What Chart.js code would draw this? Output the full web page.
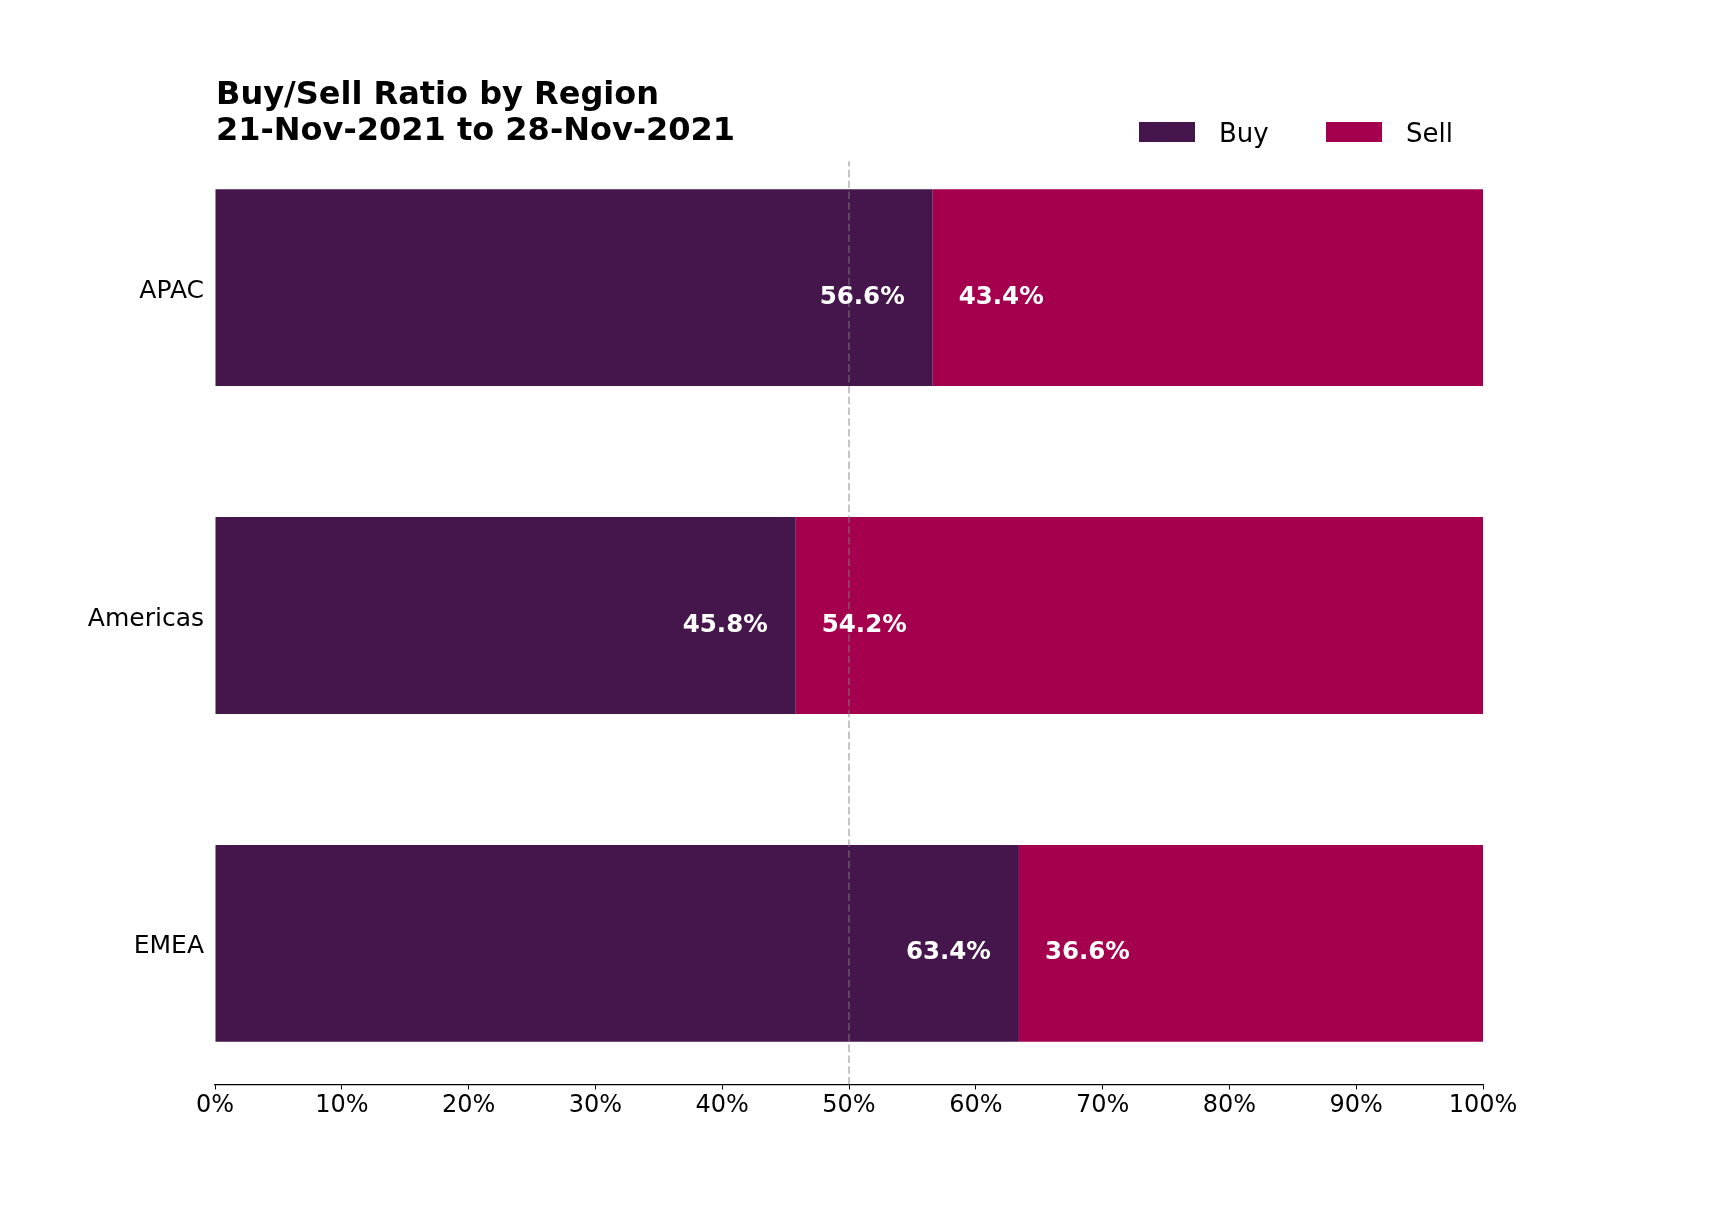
<!DOCTYPE html>
<html>
<head>
<meta charset="utf-8">
<script src="https://cdn.jsdelivr.net/npm/chart.js@4.4.1/dist/chart.umd.min.js"></script>
<style>
  html, body { margin: 0; padding: 0; background: #ffffff; }
  #wrap { width: 1717px; height: 1218px; position: relative; }
</style>
</head>
<body>
<div id="wrap"><canvas id="c" width="1717" height="1218"></canvas></div>
<script>
const regions = ['APAC', 'Americas', 'EMEA'];
const buyValues = [56.6, 45.8, 63.4];
const sellValues = [43.4, 54.2, 36.6];
const xTickValues = [0, 10, 20, 30, 40, 50, 60, 70, 80, 90, 100];
const referenceLine = 50;
const titleLines = ['Buy/Sell Ratio by Region', '21-Nov-2021 to 28-Nov-2021'];
const seriesNames = ['Buy', 'Sell'];
const seriesColors = ['#45164b', '#a5004d'];

const FONT = "'DejaVu Sans', sans-serif";

const toPoints = vals => vals.map((v, i) => ({ x: v, y: i }));

const refLinePlugin = {
  id: 'refLine',
  afterDatasetsDraw(chart) {
    const { ctx, scales } = chart;
    const x = scales.x.getPixelForValue(referenceLine);
    const yTop = scales.y.getPixelForValue(-0.385);
    const yBot = scales.y.getPixelForValue(scales.y.max);
    ctx.save();
    ctx.strokeStyle = 'rgba(128,128,128,0.6)';
    ctx.lineWidth = 1.5;
    ctx.setLineDash([7.5, 3.3]);
    ctx.beginPath();
    ctx.moveTo(x, yBot);
    ctx.lineTo(x, yTop);
    ctx.stroke();
    ctx.restore();
  }
};

const barLabelPlugin = {
  id: 'barLabels',
  afterDatasetsDraw(chart) {
    const { ctx } = chart;
    ctx.save();
    ctx.font = 'bold 24.5px ' + FONT;
    ctx.fillStyle = '#ffffff';
    ctx.textBaseline = 'alphabetic';
    chart.data.datasets.forEach((ds, di) => {
      const meta = chart.getDatasetMeta(di);
      meta.data.forEach((el, i) => {
        const v = ds.data[i].x;
        const txt = v.toFixed(1) + '%';
        if (di === 0) {
          ctx.textAlign = 'right';
          ctx.fillText(txt, el.x - 28, el.y + 16);
        } else {
          ctx.textAlign = 'left';
          ctx.fillText(txt, el.base + 26, el.y + 16);
        }
      });
    });
    ctx.restore();
  }
};

const titleLegendPlugin = {
  id: 'titleLegend',
  afterDraw(chart) {
    const { ctx, chartArea } = chart;
    ctx.save();
    ctx.fillStyle = '#000000';
    ctx.font = 'bold 32px ' + FONT;
    ctx.textAlign = 'left';
    ctx.textBaseline = 'alphabetic';
    ctx.fillText(titleLines[0], chartArea.left + 1, 104);
    ctx.fillText(titleLines[1], chartArea.left + 1, 140);

    // legend
    ctx.font = '26px ' + FONT;
    const items = [
      { sx: 1139, tx: 1219 },
      { sx: 1326, tx: 1406 }
    ];
    chart.data.datasets.forEach((ds, i) => {
      ctx.fillStyle = ds.backgroundColor;
      ctx.fillRect(items[i].sx, 122, 56, 20);
      ctx.fillStyle = '#000000';
      ctx.fillText(ds.label, items[i].tx, 142);
    });
    ctx.restore();
  }
};

new Chart(document.getElementById('c'), {
  type: 'bar',
  data: {
    datasets: [
      { label: seriesNames[0], data: toPoints(buyValues), backgroundColor: seriesColors[0], borderWidth: 0,
        categoryPercentage: 0.6, barPercentage: 1.0 },
      { label: seriesNames[1], data: toPoints(sellValues), backgroundColor: seriesColors[1], borderWidth: 0,
        categoryPercentage: 0.6, barPercentage: 1.0 }
    ]
  },
  options: {
    indexAxis: 'y',
    responsive: false,
    animation: false,
    devicePixelRatio: 1,
    layout: { padding: { top: 146.5, right: 234, bottom: 0, left: 0 } },
    plugins: {
      legend: { display: false },
      title: { display: false },
      tooltip: { enabled: false }
    },
    scales: {
      x: {
        type: 'linear',
        stacked: true,
        min: 0,
        max: 100,
        afterBuildTicks: s => { s.ticks = xTickValues.map(v => ({ value: v })); },
        afterFit: s => { s.height = 133.5; },
        grid: { display: true, drawOnChartArea: false, drawTicks: true, tickLength: 5, color: '#000000', lineWidth: 1 },
        border: { display: true, color: '#000000', width: 1.2 },
        ticks: {
          padding: 2,
          color: '#000000',
          font: { family: FONT, size: 24 },
          callback: v => v + '%',
          maxRotation: 0,
          autoSkip: false
        }
      },
      y: {
        type: 'linear',
        stacked: true,
        reverse: true,
        offset: false,
        min: -0.43,
        max: 2.43,
        afterBuildTicks: s => { s.ticks = regions.map((r, i) => ({ value: i })); },
        afterFit: s => { s.width = 215; },
        grid: { display: false, drawTicks: false },
        border: { display: false },
        ticks: {
          padding: 11,
          labelOffset: 3.5,
          color: '#000000',
          font: { family: FONT, size: 25 },
          callback: v => regions[v] !== undefined ? regions[v] : '',
          autoSkip: false
        }
      }
    }
  },
  plugins: [refLinePlugin, barLabelPlugin, titleLegendPlugin]
});
</script>
</body>
</html>
